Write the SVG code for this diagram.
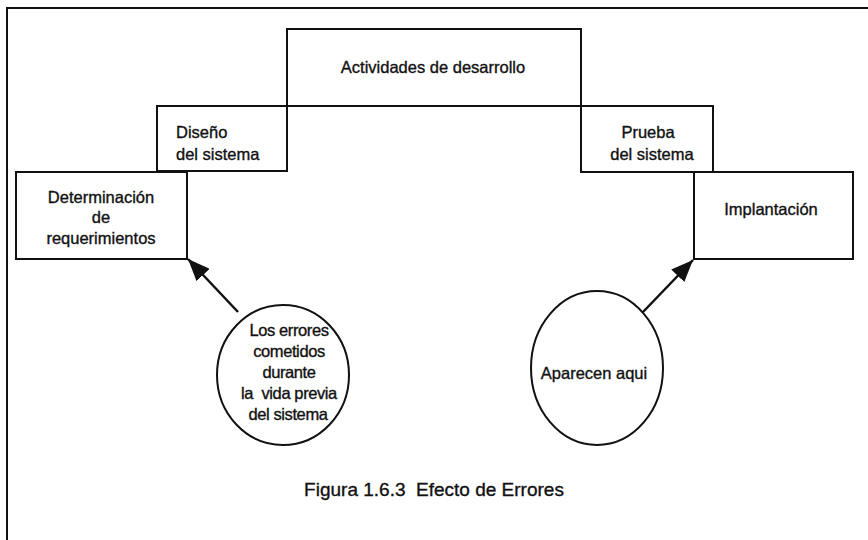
<svg xmlns="http://www.w3.org/2000/svg" width="868" height="540" viewBox="0 0 868 540">
<style>
.box{fill:#fff;stroke:#111;stroke-width:2}
.frame{fill:none;stroke:#111;stroke-width:2}
text{font-family:"Liberation Sans",Arial,sans-serif;font-size:16.5px;fill:#111;stroke:#111;stroke-width:0.35;white-space:pre}
.c{text-anchor:middle}
.t{letter-spacing:-0.4px}
.cap{font-size:19px}
.conn{stroke:#111;stroke-width:2.5;fill:none}
</style>
<defs>
<marker id="ah" markerUnits="userSpaceOnUse" markerWidth="24" markerHeight="18" refX="22" refY="9" orient="auto">
<path d="M0,0 L22,9 L0,18 Z" fill="#111"/>
</marker>
</defs>
<rect width="868" height="540" fill="#fff"/>
<path class="frame" d="M7,540 L7,8 L868,8"/>
<g id="actividades">
<rect class="box" x="287" y="29" width="294" height="77"/>
<text class="c" x="433" y="73">Actividades de desarrollo</text>
</g>
<g id="diseno">
<rect class="box" x="157" y="106" width="130" height="65"/>
<text x="176" y="138">Diseño</text>
<text x="176" y="160">del sistema</text>
</g>
<g id="prueba">
<rect class="box" x="581" y="106" width="132" height="66"/>
<text class="c" x="648" y="138">Prueba</text>
<text class="c" x="652" y="160">del sistema</text>
</g>
<g id="determinacion">
<rect class="box" x="16" y="172" width="171" height="87"/>
<text class="c" x="101" y="203">Determinación</text>
<text class="c" x="101" y="223">de</text>
<text class="c" x="101" y="244">requerimientos</text>
</g>
<g id="implantacion">
<rect class="box" x="694" y="172" width="159" height="87"/>
<text class="c" x="771" y="215">Implantación</text>
</g>
<g id="errores">
<ellipse class="box" cx="283" cy="375" rx="66" ry="70"/>
<text class="c t" x="289" y="336">Los errores</text>
<text class="c t" x="289" y="357">cometidos</text>
<text class="c t" x="289" y="378">durante</text>
<text class="c t" x="289" y="399">la  vida previa</text>
<text class="c t" x="288" y="420">del sistema</text>
</g>
<g id="aparecen">
<ellipse class="box" cx="597" cy="368" rx="66" ry="77"/>
<text class="c" x="594" y="379">Aparecen aqui</text>
</g>
<g id="connectors">
<line class="conn" x1="238" y1="312" x2="188" y2="259" marker-end="url(#ah)"/>
<line class="conn" x1="643" y1="312" x2="693" y2="260" marker-end="url(#ah)"/>
</g>
<text class="c cap" x="434" y="496">Figura 1.6.3  Efecto de Errores</text>
</svg>
